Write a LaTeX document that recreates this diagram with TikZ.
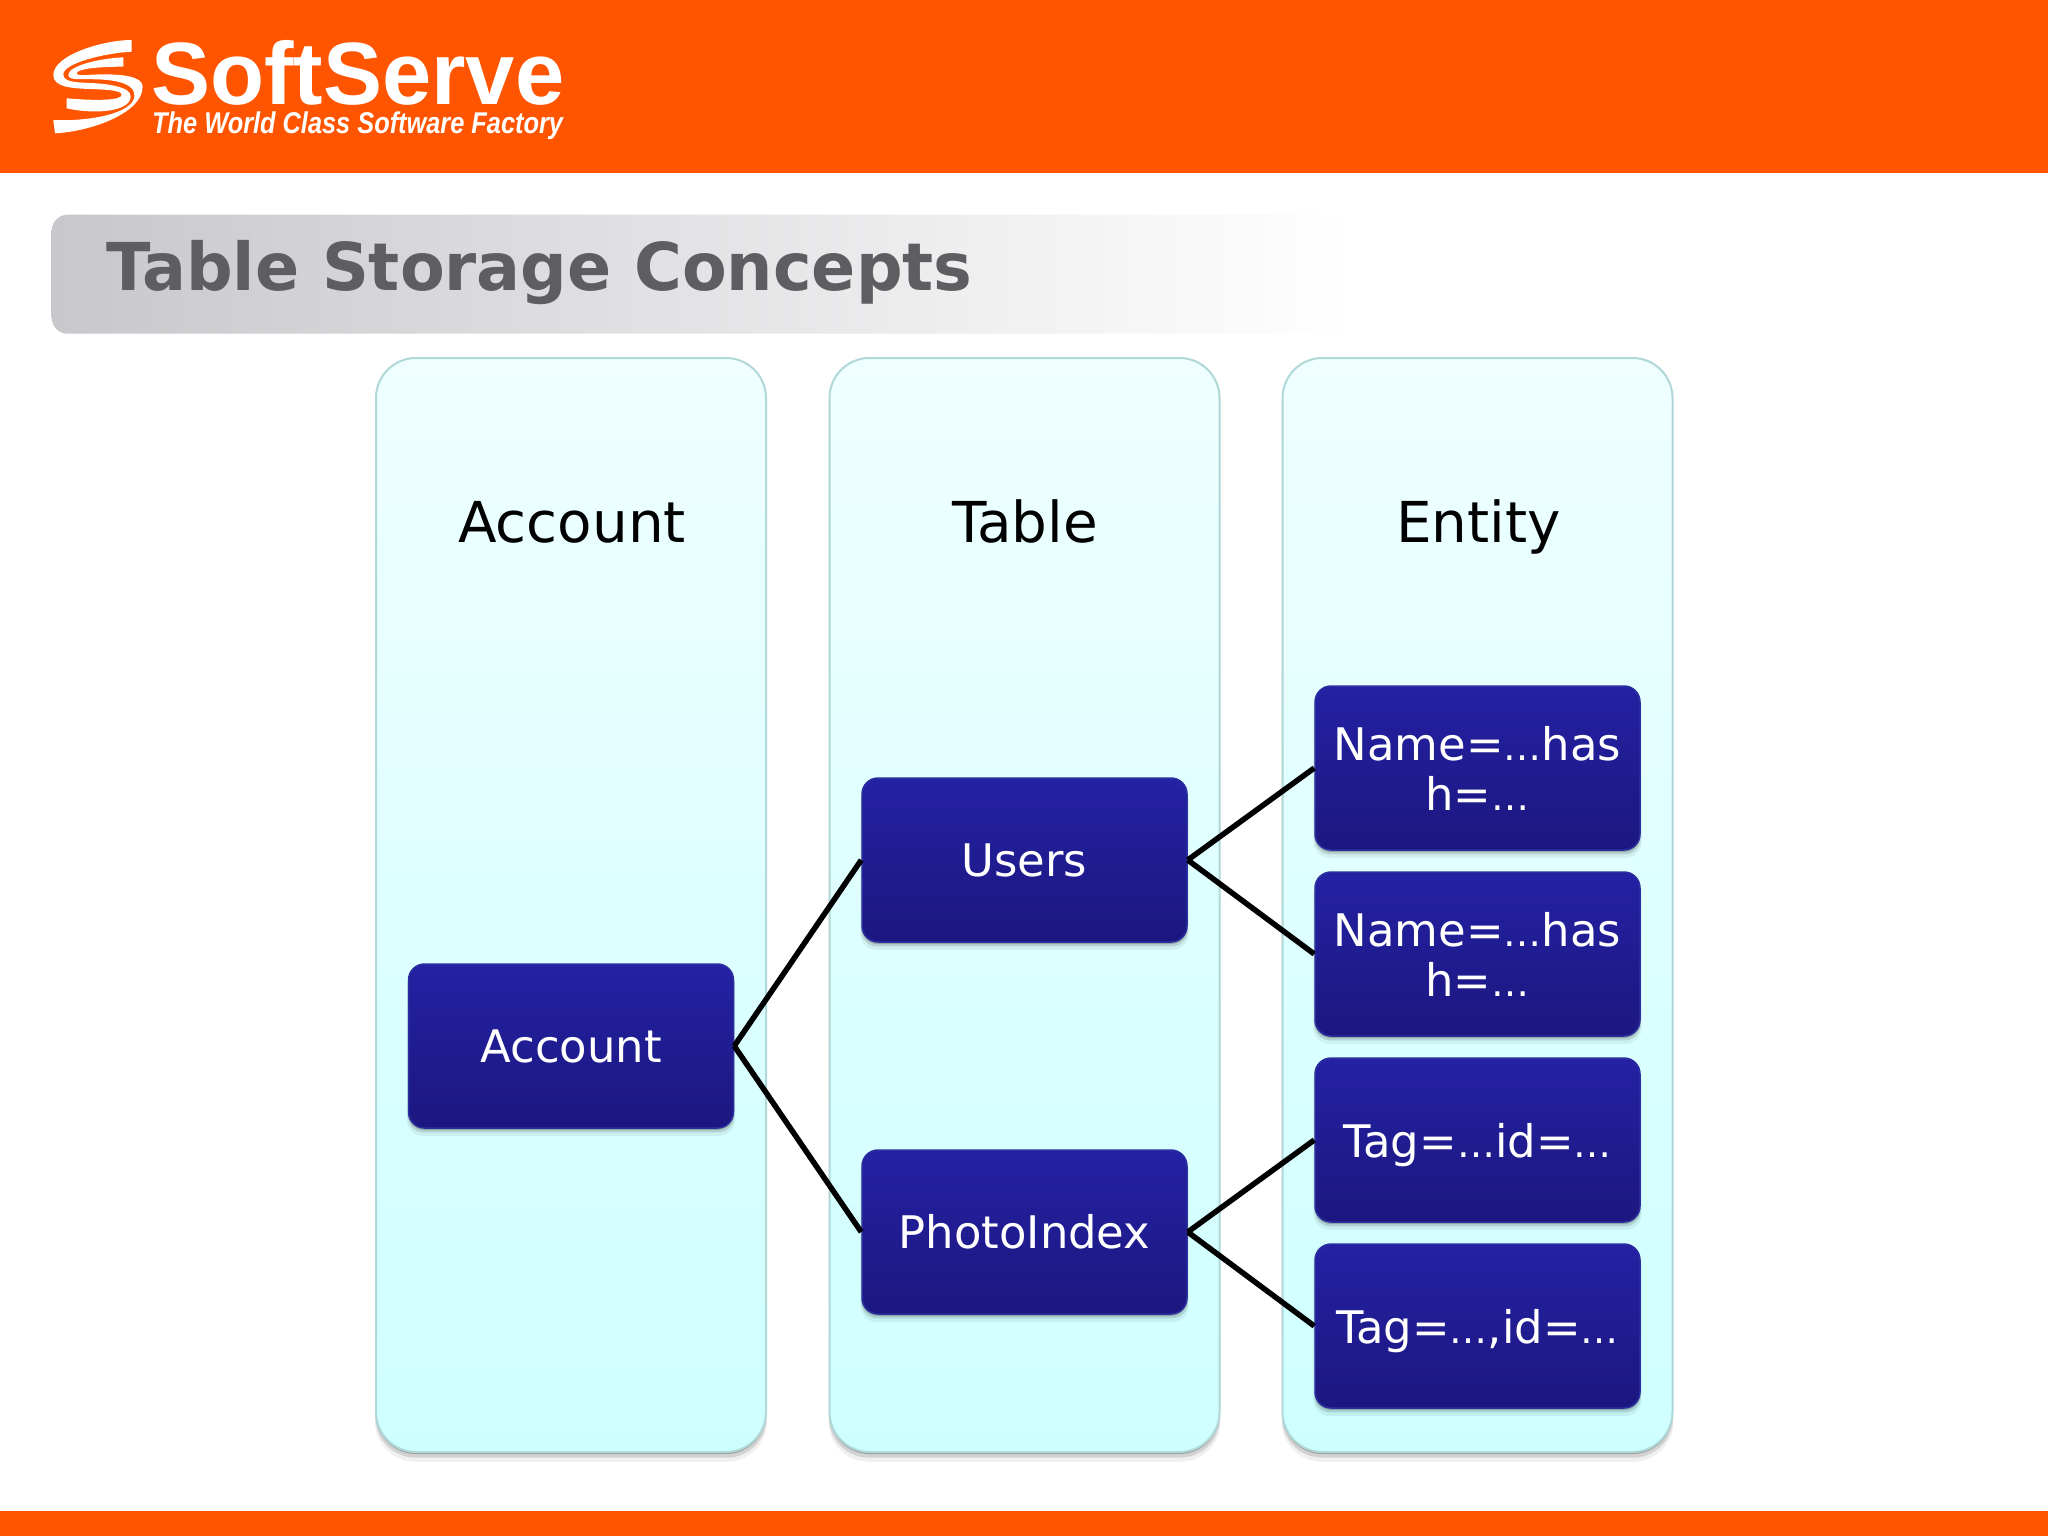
\documentclass[tikz,border=0pt]{standalone}
\usepackage{fontspec}
\setmainfont{DejaVu Sans}
\newfontfamily\logofont{Liberation Sans}
\usetikzlibrary{shadows,calc}
\definecolor{brandorange}{HTML}{FF5500}
\definecolor{titlegray}{HTML}{5E5E62}
\definecolor{barleft}{HTML}{C8C8CC}
\definecolor{barmid}{HTML}{DDDDE0}
\definecolor{paneltop}{HTML}{EFFFFF}
\definecolor{panelbottom}{HTML}{CEFFFF}
\definecolor{panelborder}{HTML}{B0D8D8}
\definecolor{boxtop}{HTML}{2421A4}
\definecolor{boxbottom}{HTML}{1C177F}
\definecolor{boxborder}{HTML}{2B2E9E}
\newcommand{\elips}{{\fontsize{38}{38}\selectfont …}}
\tikzset{
  x=1pt,y=-1pt,
  panel/.style={rounded corners=40pt,minimum width=390pt,minimum height=1094pt,
    draw=panelborder,line width=2pt,top color=paneltop,bottom color=panelbottom,inner sep=0pt,
    general shadow={shadow xshift=0pt,shadow yshift=-7pt,shadow scale=1.005,fill=black,opacity=.06},
    general shadow={shadow xshift=0pt,shadow yshift=-4pt,shadow scale=1.003,fill=black,opacity=.12},
    general shadow={shadow xshift=0pt,shadow yshift=-2pt,fill=black,opacity=.25}},
  box/.style={rounded corners=16pt,minimum width=325pt,minimum height=164pt,
    draw=boxborder,line width=1.5pt,top color=boxtop,bottom color=boxbottom,
    text=white,align=center,inner sep=0pt,font=\fontsize{44.9}{50}\selectfont,
    general shadow={shadow xshift=0pt,shadow yshift=-7pt,shadow scale=1.01,fill=black,opacity=.06},
    general shadow={shadow xshift=0pt,shadow yshift=-4pt,shadow scale=1.005,fill=black,opacity=.12},
    general shadow={shadow xshift=0pt,shadow yshift=-2pt,fill=black,opacity=.20}},
  head/.style={anchor=base,text=black,inner sep=0pt,font=\fontsize{56.4}{62}\selectfont},
  link/.style={draw=black,line width=5.5pt,line join=round},
  swirl/.style={fill=white,draw=none},
}
\begin{document}
\begin{tikzpicture}
\useasboundingbox (0,0) rectangle (2048,1536);
\fill[white] (0,0) rectangle (2048,1536);
\fill[brandorange] (0,0) rectangle (2048,172.5);
\fill[brandorange] (0,1510.5) rectangle (2048,1536);
% logo swirl
\begin{scope}[shift={(40pt,-25pt)},x=.3333pt,y=-.3333pt]
\path[swirl] (275,45) .. controls (190,45) and (40,90) .. (40,150) .. controls (40,185) and (90,190) .. (150,192)
  .. controls (210,194) and (245,197) .. (245,210) .. controls (245,226) and (170,228) .. (80,220) -- (80,250)
  .. controls (160,268) and (270,262) .. (272,215) .. controls (274,185) and (200,176) .. (150,174)
  .. controls (110,172) and (70,172) .. (70,148) .. controls (70,115) and (190,85) .. (275,80) -- cycle;
\path[swirl] (250,97) .. controls (180,100) and (85,122) .. (85,150) .. controls (85,168) and (130,161) .. (170,163)
  .. controls (240,165) and (288,180) .. (283,215) .. controls (278,265) and (150,290) .. (40,285) -- (45,325)
  .. controls (150,320) and (308,265) .. (308,185) .. controls (308,155) and (250,148) .. (190,148)
  .. controls (150,148) and (110,155) .. (110,145) .. controls (110,130) and (190,125) .. (250,125) -- cycle;
\end{scope}
\node[anchor=base west,inner sep=0pt,text=white,font=\logofont\bfseries\fontsize{88.5}{89}\selectfont] (logoname) at (151,105) {SoftServe};
\node[anchor=base west,inner sep=0pt,text=white,xscale=.845,transform shape,font=\logofont\bfseries\itshape\fontsize{30}{30}\selectfont] (logotag) at (152,133.5) {The World Class Software Factory};
% title bar
\node[anchor=north west,minimum width=1300pt,minimum height=119pt,rounded corners=16pt,left color=barleft,middle color=barmid,right color=white,inner sep=0pt] (titlebar) at (51.5,214.5) {};
\node[anchor=base west,inner sep=0pt,text=titlegray,xscale=.987,transform shape,font=\bfseries\fontsize{66}{70}\selectfont] (title) at (106,290) {Table Storage Concepts};
% panels
\node[panel] (p1) at (571,905) {};
\node[panel] (p2) at (1024.5,905) {};
\node[panel] (p3) at (1477.5,905) {};
\node[head] (h1) at (572,542) {Account};
\node[head] (h2) at (1025,542) {Table};
\node[head] (h3) at (1478.5,542) {Entity};
% boxes
\node[box] (account) at (571,1046) {Account};
\node[box] (users) at (1024.5,860) {Users};
\node[box] (photo) at (1024.5,1232) {PhotoIndex};
\node[box] (e1) at (1477.5,768) {Name=\elips has\\h=\elips};
\node[box] (e2) at (1477.5,954) {Name=\elips has\\h=\elips};
\node[box,text depth=0pt] (e3) at (1477.5,1140) {Tag=\elips id=\elips};
\node[box,text depth=0pt] (e4) at (1477.5,1326) {Tag=\elips,id=\elips};
% connectors
\draw[link] (account.east) -- (users.west);
\draw[link] (account.east) -- (photo.west);
\draw[link] (users.east) -- (e1.west);
\draw[link] (users.east) -- (e2.west);
\draw[link] (photo.east) -- (e3.west);
\draw[link] (photo.east) -- (e4.west);
\end{tikzpicture}
\end{document}
